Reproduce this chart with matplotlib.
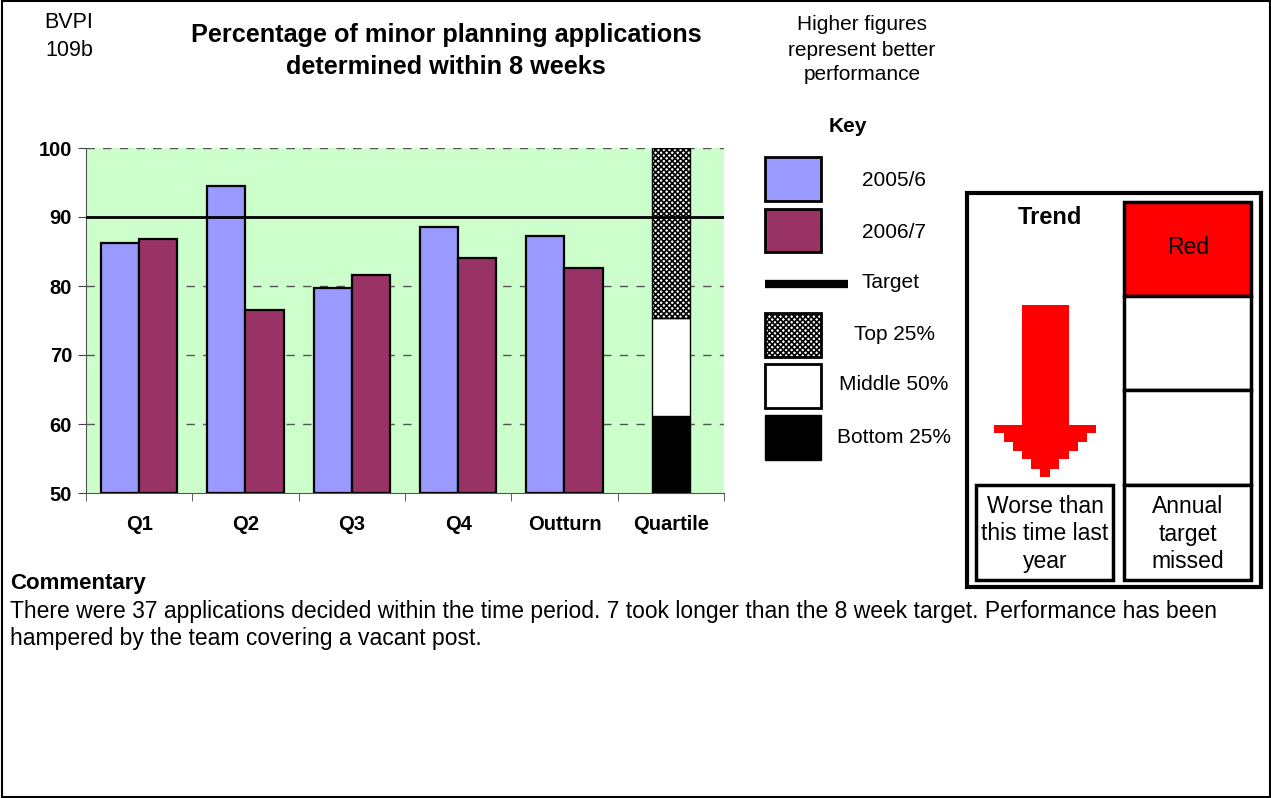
import matplotlib
matplotlib.use("Agg")
import matplotlib.pyplot as plt
from matplotlib.patches import Rectangle, Polygon

plt.rcParams['font.family'] = ['Liberation Sans', 'DejaVu Sans']

# data
categories = ['Q1', 'Q2', 'Q3', 'Q4', 'Outturn', 'Quartile']
values_2005 = [86.2, 94.5, 79.7, 88.6, 87.2]
values_2006 = [86.8, 76.5, 81.6, 84.1, 82.6]
target = 90
quartile_bottom = 61.2
quartile_middle = 75.3
quartile_top = 100
y_min = 50

W, H = 1271, 798
fig = plt.figure(figsize=(W / 100, H / 100), dpi=100)


def fx(x):
    return x / W


def fy(y):
    return 1 - y / H


def box(x0, y0, x1, y1, **kw):
    r = Rectangle((fx(x0), fy(y1)), fx(x1) - fx(x0), fy(y0) - fy(y1),
                  transform=fig.transFigure, **kw)
    fig.add_artist(r)
    return r


# outer frame
box(1.5, 1.5, 1269.5, 796.5, fill=False, edgecolor='black', lw=1.5)

ax = fig.add_axes([fx(86), fy(493), fx(724) - fx(86), fy(148) - fy(493)])
ax.set_facecolor('#ccffcc')

blue = '#9999ff'
plum = '#993366'
bw = 0.36
for i in range(len(values_2005)):
    ax.bar(i - bw / 2, values_2005[i] - y_min, bw, bottom=y_min, color=blue,
           edgecolor='black', lw=1.6, zorder=3)
    ax.bar(i + bw / 2, values_2006[i] - y_min, bw, bottom=y_min, color=plum,
           edgecolor='black', lw=1.6, zorder=3)

q = len(categories) - 1
ax.bar(q, quartile_bottom - y_min, bw, bottom=y_min, color='black',
       edgecolor='black', lw=1, zorder=3)
ax.bar(q, quartile_middle - quartile_bottom, bw, bottom=quartile_bottom,
       color='white', edgecolor='black', lw=1, zorder=3)
plt.rcParams['hatch.linewidth'] = 1.2
ax.bar(q, quartile_top - quartile_middle, bw, bottom=quartile_middle,
       color='white', edgecolor='black', hatch='xxxxxx', lw=1, zorder=3)

ax.axhline(target, color='black', lw=2, zorder=4)

ax.set_ylim(y_min, 100)
ax.set_xlim(-0.5, len(categories) - 0.5)
ax.set_yticks([50, 60, 70, 80, 90, 100])
for yv in [60, 70, 80, 100]:
    ax.axhline(yv, color='#555555', lw=1, ls=(0, (6, 6)), zorder=1)

ax.set_xticks(range(len(categories)))
ax.set_xticklabels(categories, fontsize=14.5, fontweight='bold')
ax.set_xticks([i - 0.5 for i in range(len(categories) + 1)], minor=True)
ax.tick_params(axis='x', which='major', length=0, pad=16)
ax.tick_params(axis='x', which='minor', length=6, direction='out', color='#444444')
ax.tick_params(axis='y', length=6, direction='out', color='#444444', pad=4)
for lab in ax.get_yticklabels():
    lab.set_fontweight('bold')
    lab.set_fontsize(14.5)
for s in ['top', 'right']:
    ax.spines[s].set_visible(False)
ax.spines['left'].set_color('#555555')
ax.spines['bottom'].set_color('#555555')

# header texts
fig.text(fx(69), fy(23), 'BVPI', ha='center', va='center', fontsize=15.5)
fig.text(fx(69), fy(51), '109b', ha='center', va='center', fontsize=15.5)
fig.text(fx(446), fy(51), 'Percentage of minor planning applications\ndetermined within 8 weeks',
         ha='center', va='center', fontsize=18.2, fontweight='bold', linespacing=1.38)
fig.text(fx(862), fy(50), 'Higher figures\nrepresent better\nperformance',
         ha='center', va='center', fontsize=15, linespacing=1.4)

# key
fig.text(fx(848), fy(127), 'Key', ha='center', va='center', fontsize=15, fontweight='bold')
box(765, 157, 821, 201, facecolor=blue, edgecolor='black', lw=2)
box(765, 209, 821, 252, facecolor=plum, edgecolor='black', lw=2)
fig.add_artist(plt.Line2D([fx(765), fx(848)], [fy(284), fy(284)],
                          transform=fig.transFigure, color='black', lw=6,
                          solid_capstyle='butt'))
box(765, 313, 821, 357, facecolor='white', edgecolor='black', lw=2, hatch='xxxxxx')
box(765, 364, 821, 408, facecolor='white', edgecolor='black', lw=2)
box(765, 415, 821, 460, facecolor='black', edgecolor='black', lw=1)
key_labels = [('2005/6', 894, 181), ('2006/7', 894, 232), ('Target', 891, 283),
              ('Top 25%', 894, 334), ('Middle 50%', 894, 385), ('Bottom 25%', 894, 437)]
for t, x, y in key_labels:
    fig.text(fx(x), fy(y), t, ha='center', va='center', fontsize=15)

# trend box
box(967, 193, 1261, 587, fill=False, edgecolor='black', lw=3)
fig.text(fx(1050), fy(218), 'Trend', ha='center', va='center', fontsize=17, fontweight='bold')
box(1124, 202, 1251, 296, facecolor='#ff0000', edgecolor='black', lw=2.5)
fig.text(fx(1188), fy(248), 'Red', ha='center', va='center', fontsize=16.5)
box(1124, 296, 1251, 390, facecolor='white', edgecolor='black', lw=2.5)
box(1124, 390, 1251, 485, facecolor='white', edgecolor='black', lw=2.5)
box(1124, 485, 1251, 580, facecolor='white', edgecolor='black', lw=2.5)
fig.text(fx(1188), fy(534), 'Annual\ntarget\nmissed', ha='center', va='center',
         fontsize=16.5, linespacing=1.27)
box(976, 485, 1113, 580, facecolor='white', edgecolor='black', lw=2.5)
fig.text(fx(1045), fy(534), 'Worse than\nthis time last\nyear', ha='center', va='center',
         fontsize=16.5, linespacing=1.27)

# stepped down arrow
arrow_px = [(1022, 305), (1069, 305), (1069, 425), (1096, 425), (1096, 433),
            (1087, 433), (1087, 442), (1078, 442), (1078, 451), (1069, 451),
            (1069, 459), (1059, 459), (1059, 469), (1050, 469), (1050, 477),
            (1040, 477), (1040, 469), (1031, 469), (1031, 459), (1022, 459),
            (1022, 451), (1013, 451), (1013, 442), (1004, 442), (1004, 433),
            (994, 433), (994, 425), (1022, 425)]
fig.add_artist(Polygon([(fx(x), fy(y)) for x, y in arrow_px], closed=True,
                       transform=fig.transFigure, facecolor='#ff0000', edgecolor='none'))

# commentary
fig.text(fx(10), fy(584), 'Commentary', ha='left', va='center', fontsize=16, fontweight='bold')
fig.text(fx(10), fy(625), 'There were 37 applications decided within the time period. 7 took longer than the 8 week target. '
         'Performance has been\nhampered by the team covering a vacant post.',
         ha='left', va='center', fontsize=16.5, linespacing=1.18)

fig.savefig('out.png', dpi=100)
